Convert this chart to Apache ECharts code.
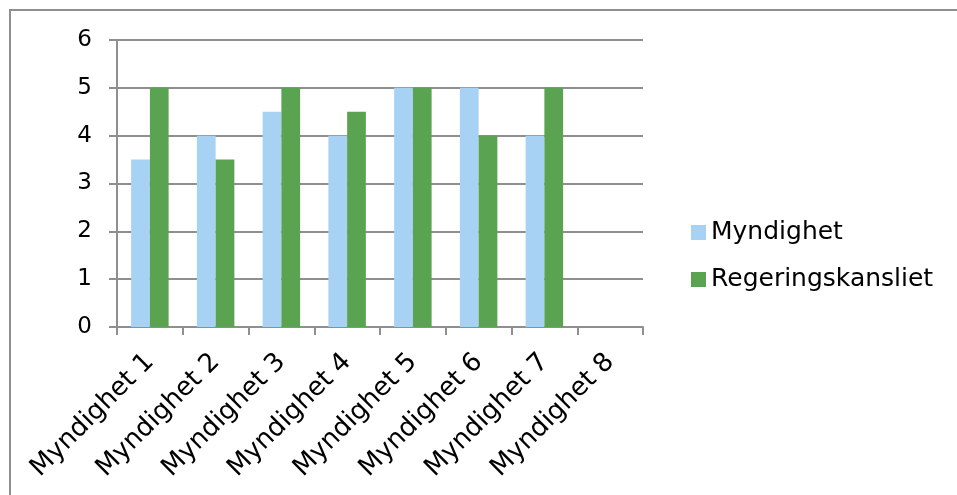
<!DOCTYPE html>
<html>
<head>
<meta charset="utf-8">
<script src="https://cdn.jsdelivr.net/npm/echarts@6/dist/echarts.min.js"></script>
<style>
html,body{margin:0;padding:0;background:#fff;}
#chart{width:957px;height:495px;}
</style>
</head>
<body>
<div id="chart"></div>
<script>
var categories = ['Myndighet 1','Myndighet 2','Myndighet 3','Myndighet 4','Myndighet 5','Myndighet 6','Myndighet 7','Myndighet 8'];
var myndighet = [3.5, 4, 4.5, 4, 5, 5, 4, null];
var regeringskansliet = [5, 3.5, 5, 4.5, 5, 4, 5, null];
var seriesNames = ['Myndighet', 'Regeringskansliet'];
var yTicks = [0, 1, 2, 3, 4, 5, 6];

var chart = echarts.init(document.getElementById('chart'), null, {renderer: 'canvas'});
var font = 'DejaVu Sans';
var gray = '#8f8f8f';
chart.setOption({
  animation: false,
  textStyle: {fontFamily: font},
  graphic: [{
    type: 'rect',
    shape: {x: 10, y: 10, width: 980, height: 520},
    style: {fill: 'none', stroke: gray, lineWidth: 2},
    silent: true
  }],
  grid: {left: 117, right: 314, top: 40, bottom: 168},
  legend: {
    orient: 'vertical',
    left: 686,
    top: 215,
    itemWidth: 15,
    itemHeight: 15,
    itemGap: 22,
    icon: 'rect',
    textStyle: {fontFamily: font, fontSize: 25, color: '#000'},
    data: seriesNames
  },
  xAxis: {
    type: 'category',
    data: categories,
    axisLine: {lineStyle: {color: gray, width: 2}},
    axisTick: {show: true, length: 8, lineStyle: {color: gray, width: 2}},
    axisLabel: {rotate: 45, fontSize: 26, color: '#000', margin: 31, interval: 0, fontFamily: font}
  },
  yAxis: {
    type: 'value',
    min: yTicks[0],
    max: yTicks[yTicks.length - 1],
    interval: 1,
    axisLine: {show: true, lineStyle: {color: gray, width: 2}},
    axisTick: {show: true, length: 8, lineStyle: {color: gray, width: 2}},
    axisLabel: {fontSize: 23, color: '#000', margin: 25, fontFamily: font},
    splitLine: {lineStyle: {color: gray, width: 2}}
  },
  series: [{
    name: seriesNames[0],
    type: 'bar',
    data: myndighet,
    barGap: '0%',
    barCategoryGap: '43%',
    itemStyle: {color: '#a7d2f4'}
  }, {
    name: seriesNames[1],
    type: 'bar',
    data: regeringskansliet,
    barGap: '0%',
    barCategoryGap: '43%',
    itemStyle: {color: '#5aa451'}
  }]
});
</script>
</body>
</html>
